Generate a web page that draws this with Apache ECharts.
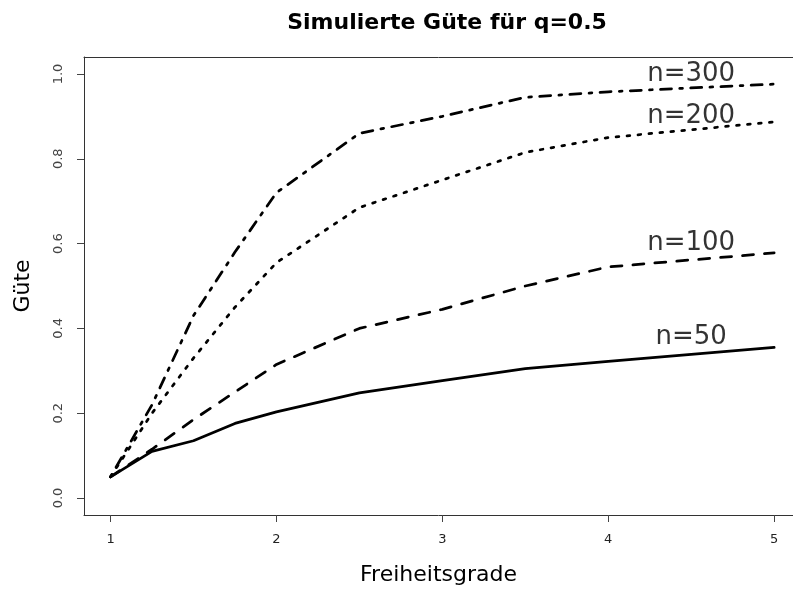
<!DOCTYPE html>
<html>
<head>
<meta charset="utf-8">
<script src="https://cdn.jsdelivr.net/npm/echarts@6/dist/echarts.min.js"></script>
<style>
html,body{margin:0;padding:0;background:#fff;}
#chart{width:793px;height:592px;}
</style>
</head>
<body>
<div id="chart"></div>
<script>
var freiheitsgrade=[1,1.25,1.5,1.75,2,2.5,3,3.5,4,5];
var guete50=[0.05,0.11,0.135,0.176,0.203,0.248,0.277,0.305,0.322,0.355];
var guete100=[0.05,0.115,0.185,0.25,0.315,0.40,0.445,0.50,0.545,0.578];
var guete200=[0.05,0.20,0.33,0.45,0.555,0.685,0.75,0.815,0.85,0.887];
var guete300=[0.05,0.22,0.43,0.58,0.72,0.86,0.90,0.945,0.958,0.976];
var xTicks=[1,2,3,4,5];
var yTicks=[0,0.2,0.4,0.6,0.8,1.0];
var labelText=['n=50','n=100','n=200','n=300'];
var labelX=[4.5,4.5,4.5,4.5];
var labelY=[0.38,0.6,0.9,1.0];

var FONT='DejaVu Sans';
var LW=2.75;

function pairs(ys){
    var d=[];
    for(var i=0;i<freiheitsgrade.length;i++){
        d.push([freiheitsgrade[i],ys[i]]);
    }
    return d;
}

function lineSeries(name,ys,dash){
    return {
        name:name,
        type:'line',
        data:pairs(ys),
        showSymbol:false,
        silent:true,
        lineStyle:{
            color:'#000',
            width:LW,
            type:dash,
            cap:'round',
            join:'round'
        }
    };
}

var labelData=[];
for(var i=0;i<labelText.length;i++){
    labelData.push({value:[labelX[i],labelY[i]],name:labelText[i]});
}

// plot region runs past the right edge of the picture (R box is cut off there)
var xMin=0.84, xUnit=165.9, gridLeft=84, gridWidth=709;
var xMax=xMin+gridWidth/xUnit;

var myChart=echarts.init(document.getElementById('chart'));
var option={
    animation:false,
    backgroundColor:'#fff',
    title:{
        text:'Simulierte Güte für q=0.5',
        left:442,
        top:7,
        textAlign:'center',
        textStyle:{
            fontFamily:FONT,
            fontWeight:'bold',
            fontSize:22,
            color:'#000'
        }
    },
    grid:{
        left:gridLeft,
        top:57,
        width:gridWidth,
        height:458,
        show:false
    },
    xAxis:[{
        type:'value',
        position:'bottom',
        min:xMin,
        max:xMax,
        name:'Freiheitsgrade',
        nameLocation:'middle',
        nameGap:49,
        nameTextStyle:{fontFamily:FONT,fontSize:22,color:'#000'},
        axisLine:{show:true,onZero:false,lineStyle:{color:'#333',width:1}},
        splitLine:{show:false},
        axisTick:{show:true,length:7,customValues:xTicks,lineStyle:{color:'#444'}},
        axisLabel:{
            customValues:xTicks,
            margin:18,
            fontFamily:FONT,
            fontSize:13,
            color:'#222'
        }
    },{
        type:'value',
        position:'top',
        min:xMin,
        max:xMax,
        axisLine:{show:true,onZero:false,lineStyle:{color:'#333',width:1}},
        axisTick:{show:false},
        axisLabel:{show:false},
        splitLine:{show:false}
    }],
    yAxis:{
        type:'value',
        min:-0.04,
        max:1.04,
        name:'Güte',
        nameLocation:'middle',
        nameGap:50,
        nameTextStyle:{fontFamily:FONT,fontSize:22,color:'#000'},
        axisLine:{show:true,onZero:false,lineStyle:{color:'#333',width:1}},
        splitLine:{show:false},
        axisTick:{show:true,length:7,customValues:yTicks,lineStyle:{color:'#444'}},
        axisLabel:{
            customValues:yTicks,
            rotate:90,
            margin:19,
            fontFamily:FONT,
            fontSize:13,
            color:'#444',
            formatter:function(v){return v.toFixed(1);}
        }
    },
    series:[
        lineSeries('n=50',guete50,'solid'),
        lineSeries('n=100',guete100,[LW*4,LW*4]),
        lineSeries('n=200',guete200,[LW*1,LW*3]),
        lineSeries('n=300',guete300,[LW*1,LW*3,LW*4,LW*3]),
        {
            name:'Beschriftung',
            type:'scatter',
            symbolSize:0,
            silent:true,
            data:labelData,
            label:{
                show:true,
                position:'inside',
                formatter:'{b}',
                fontFamily:FONT,
                fontSize:26,
                color:'#000',
                textBorderWidth:0
            }
        }
    ]
};
myChart.setOption(option);
</script>
</body>
</html>
